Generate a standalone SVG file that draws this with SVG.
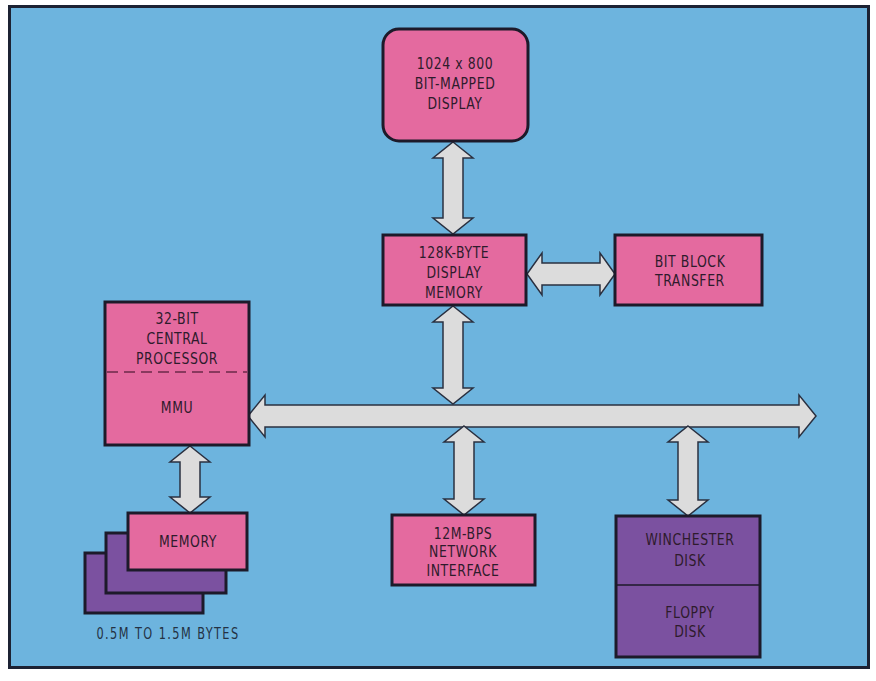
<svg xmlns="http://www.w3.org/2000/svg" width="876" height="681" viewBox="0 0 876 681">
  <style>
    .frame { fill: #6db4de; stroke: #1c2233; stroke-width: 3; }
    .pink { fill: #e46a9f; stroke: #1d1a2a; stroke-width: 3; }
    .purple { fill: #7b51a0; stroke: #1d1a2a; stroke-width: 3; }
    .arrow { fill: #dcdcdc; stroke: #2a3040; stroke-width: 1.5; stroke-linejoin: miter; }
    .lbl, .cap { font-family: "DejaVu Sans Condensed", "Liberation Sans", sans-serif; text-anchor: middle;
                 transform-box: fill-box; transform-origin: center; transform: scaleX(0.84); }
    .lbl { font-size: 16.5px; fill: #2e1b2c; letter-spacing: 0.7px; }
    .cap { font-size: 15px; fill: #243244; letter-spacing: 1.7px; }
  </style>

  <rect x="0" y="0" width="876" height="681" fill="#ffffff"/>
  <rect class="frame" x="9.5" y="6.5" width="859" height="661"/>

  <!-- connectors: bus and double-headed links -->
  <g id="connectors">
    <!-- system bus -->
    <path class="arrow" d="M248,416 L265,395 L265,405 L799,405 L799,395 L816,416 L799,437 L799,427 L265,427 L265,437 Z"/>
    <!-- display <-> display memory -->
    <path class="arrow" d="M453,142 L473,158 L463,158 L463,218 L473,218 L453,234 L433,218 L443,218 L443,158 L433,158 Z"/>
    <!-- display memory <-> bus -->
    <path class="arrow" d="M453,306 L473,322 L463,322 L463,388 L473,388 L453,404 L433,388 L443,388 L443,322 L433,322 Z"/>
    <!-- display memory <-> bit block transfer -->
    <path class="arrow" d="M527,274 L542,253 L542,263 L600,263 L600,253 L615,274 L600,295 L600,285 L542,285 L542,295 Z"/>
    <!-- bus <-> network interface -->
    <path class="arrow" d="M464,426 L484,442 L474,442 L474,499 L484,499 L464,515 L444,499 L454,499 L454,442 L444,442 Z"/>
    <!-- bus <-> disks -->
    <path class="arrow" d="M688,426 L708,442 L698,442 L698,500 L708,500 L688,516 L668,500 L678,500 L678,442 L668,442 Z"/>
    <!-- processor <-> memory -->
    <path class="arrow" d="M190,446 L210,462 L200,462 L200,497 L210,497 L190,513 L170,497 L180,497 L180,462 L170,462 Z"/>
  </g>

  <g id="display">
    <rect class="pink" x="383" y="29" width="145" height="112" rx="16" ry="16"/>
    <text class="lbl" x="455" y="69">1024 x 800</text>
    <text class="lbl" x="455" y="89">BIT-MAPPED</text>
    <text class="lbl" x="455" y="109">DISPLAY</text>
  </g>

  <g id="display-memory">
    <rect class="pink" x="383" y="235" width="143" height="70"/>
    <text class="lbl" x="454" y="258">128K-BYTE</text>
    <text class="lbl" x="454" y="278">DISPLAY</text>
    <text class="lbl" x="454" y="298">MEMORY</text>
  </g>

  <g id="bit-block-transfer">
    <rect class="pink" x="615" y="235" width="147" height="70"/>
    <text class="lbl" x="690" y="267">BIT BLOCK</text>
    <text class="lbl" x="690" y="286">TRANSFER</text>
  </g>

  <g id="central-processor">
    <rect class="pink" x="105" y="302" width="144" height="143"/>
    <line x1="107" y1="372" x2="247" y2="372" stroke="#6b2a4a" stroke-width="1.5" stroke-dasharray="11,6"/>
    <text class="lbl" x="177" y="324">32-BIT</text>
    <text class="lbl" x="177" y="344">CENTRAL</text>
    <text class="lbl" x="177" y="364">PROCESSOR</text>
    <text class="lbl" x="177" y="413">MMU</text>
  </g>

  <g id="memory">
    <rect class="purple" x="85" y="553" width="118" height="60"/>
    <rect class="purple" x="106" y="533" width="120" height="60"/>
    <rect class="pink" x="128" y="513" width="119" height="57"/>
    <text class="lbl" x="188" y="547">MEMORY</text>
    <text class="cap" x="168" y="639">0.5M TO 1.5M BYTES</text>
  </g>

  <g id="network-interface">
    <rect class="pink" x="392" y="515" width="143" height="70"/>
    <text class="lbl" x="463" y="539">12M-BPS</text>
    <text class="lbl" x="463" y="557">NETWORK</text>
    <text class="lbl" x="463" y="576">INTERFACE</text>
  </g>

  <g id="disks">
    <rect class="purple" x="616" y="516" width="144" height="141"/>
    <line x1="616" y1="585" x2="760" y2="585" stroke="#1d1a2a" stroke-width="1.5"/>
    <text class="lbl" x="690" y="545">WINCHESTER</text>
    <text class="lbl" x="690" y="566">DISK</text>
    <text class="lbl" x="690" y="618">FLOPPY</text>
    <text class="lbl" x="690" y="637">DISK</text>
  </g>
</svg>
